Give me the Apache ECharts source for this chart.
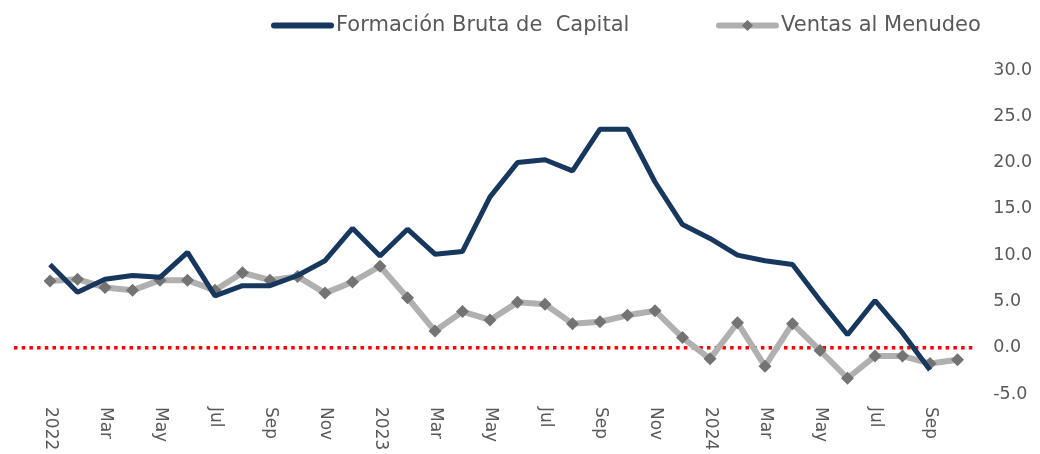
<!DOCTYPE html>
<html>
<head>
<meta charset="utf-8">
<script src="https://cdn.jsdelivr.net/npm/echarts@6/dist/echarts.min.js"></script>
<style>
  html, body { margin: 0; padding: 0; background: #fff; }
  #chart { width: 1040px; height: 454px; }
</style>
</head>
<body>
<div id="chart"></div>
<script>
// months Jan 2022 .. Oct 2024
const months = [
  "2022", "Feb", "Mar", "Apr", "May", "Jun", "Jul", "Aug", "Sep", "Oct", "Nov", "Dec",
  "2023", "Feb", "Mar", "Apr", "May", "Jun", "Jul", "Aug", "Sep", "Oct", "Nov", "Dec",
  "2024", "Feb", "Mar", "Apr", "May", "Jun", "Jul", "Aug", "Sep", "Oct"
];
const formacion = [
  9.0, 6.0, 7.4, 7.8, 7.6, 10.3, 5.6, 6.7, 6.7, 7.8, 9.4, 12.9,
  9.9, 12.8, 10.1, 10.4, 16.3, 20.0, 20.3, 19.1, 23.6, 23.6, 17.9, 13.3,
  11.8, 10.0, 9.4, 9.0, 5.1, 1.4, 5.1, 1.6, -2.4, null
];
const ventas = [
  7.2, 7.4, 6.5, 6.2, 7.3, 7.3, 6.2, 8.1, 7.3, 7.7, 5.9, 7.1,
  8.8, 5.4, 1.8, 3.9, 3.0, 4.9, 4.7, 2.6, 2.8, 3.5, 4.0, 1.1,
  -1.2, 2.7, -2.0, 2.6, -0.3, -3.3, -0.9, -0.9, -1.7, -1.3
];
const yMin = -5, yMax = 30, yStep = 5;

const nameFbc = "Formación Bruta de  Capital";
const nameVentas = "Ventas al Menudeo";
const font = "DejaVu Sans";
const textGray = "#595959";

let myChart = echarts.init(document.getElementById("chart"));
myChart.setOption({
  animation: false,
  legend: [
    {
      top: 10,
      left: 266,
      itemWidth: 57,
      itemHeight: 14,
      lineStyle: { width: 6, cap: "round" },
      textStyle: { color: textGray, fontFamily: font, fontSize: 21 },
      data: [{ name: nameFbc, itemStyle: { opacity: 0 } }]
    },
    {
      top: 10,
      left: 711,
      itemWidth: 57,
      itemHeight: 14,
      lineStyle: { width: 6, cap: "round" },
      textStyle: { color: textGray, fontFamily: font, fontSize: 21 },
      data: [nameVentas]
    }
  ],
  grid: [
    { left: 36.25, right: 68.75, top: 70, bottom: 60 },
    // wider grid only for the zero reference line
    { left: 14, right: 67, top: 70, bottom: 60 }
  ],
  xAxis: [
    {
      type: "category",
      gridIndex: 0,
      data: months,
      boundaryGap: true,
      axisLine: { show: false },
      axisTick: { show: false },
      axisLabel: {
        interval: 1,
        rotate: -90,
        margin: 13,
        color: textGray,
        fontFamily: font,
        fontSize: 17
      }
    },
    { type: "value", gridIndex: 1, min: 0, max: 1, show: false }
  ],
  yAxis: [
    {
      type: "value",
      gridIndex: 0,
      position: "right",
      min: yMin,
      max: yMax,
      interval: yStep,
      axisLine: { show: false },
      axisTick: { show: false },
      splitLine: { show: false },
      axisLabel: {
        margin: 22,
        color: textGray,
        fontFamily: font,
        fontSize: 17.5,
        formatter: (v) => v.toFixed(1)
      }
    },
    { type: "value", gridIndex: 1, min: yMin, max: yMax, show: false }
  ],
  series: [
    {
      name: "cero",
      type: "line",
      xAxisIndex: 1,
      yAxisIndex: 1,
      data: [[0, 0], [1, 0]],
      symbol: "none",
      silent: true,
      lineStyle: { color: "#ff0000", width: 3.5, type: [3.5, 4.2], cap: "butt" },
      z: 1
    },
    {
      name: nameVentas,
      type: "line",
      data: ventas,
      symbol: "diamond",
      symbolSize: 13,
      itemStyle: { color: "#737373" },
      lineStyle: { color: "#b0b0b0", width: 6 },
      z: 2
    },
    {
      name: nameFbc,
      type: "line",
      data: formacion,
      symbol: "circle",
      showSymbol: false,
      itemStyle: { color: "#17375e" },
      lineStyle: { color: "#17375e", width: 5 },
      z: 3
    }
  ]
});
</script>
</body>
</html>
